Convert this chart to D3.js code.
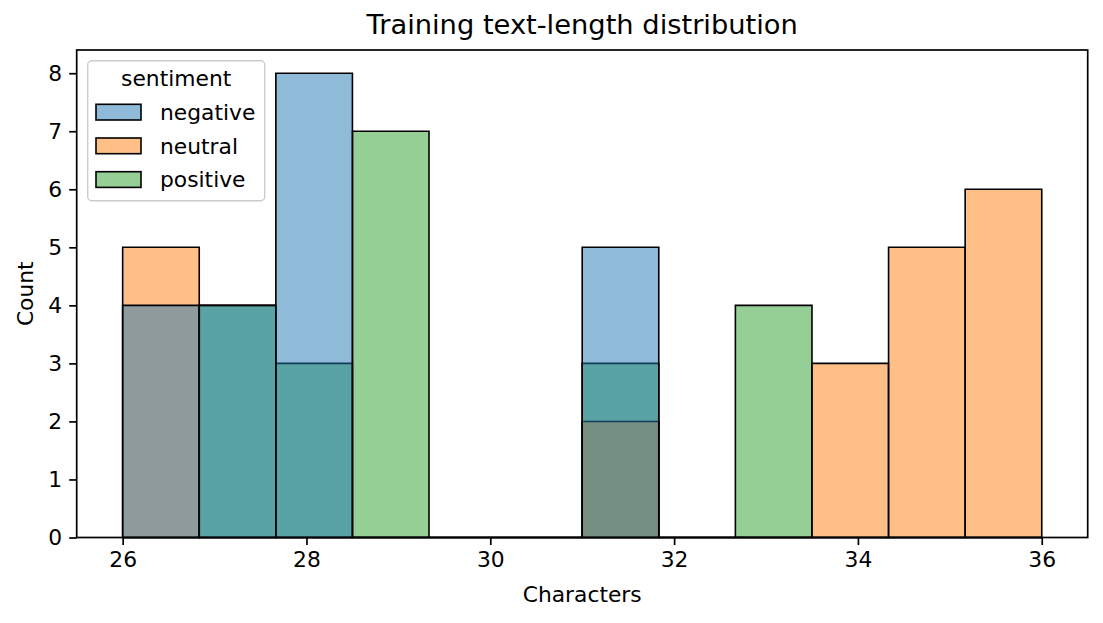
<!DOCTYPE html>
<html>
<head>
<meta charset="utf-8">
<script src="https://cdn.jsdelivr.net/npm/d3@7"></script>
<style>
  body { margin: 0; background: #ffffff; }
  text { font-family: "DejaVu Sans", sans-serif; fill: #000000; }
</style>
</head>
<body>
<div id="chart"></div>
<script>
// Histogram bins (12 bins between 26 and 36 characters)
const binEdges = [26, 26.8333, 27.6667, 28.5, 29.3333, 30.1667, 31, 31.8333, 32.6667, 33.5, 34.3333, 35.1667, 36];

// Counts per bin for every sentiment
const sentiments = ['negative', 'neutral', 'positive'];
const negativeCounts = [4, 4, 8, 0, 0, 0, 5, 0, 0, 0, 0, 0];
const neutralCounts = [5, 0, 0, 0, 0, 0, 2, 0, 0, 3, 5, 6];
const positiveCounts = [0, 4, 3, 7, 0, 0, 3, 0, 4, 0, 0, 0];

const xTicks = [26, 28, 30, 32, 34, 36];
const yTicks = [0, 1, 2, 3, 4, 5, 6, 7, 8];

const colors = { negative: '#1f77b4', neutral: '#ff7f0e', positive: '#2ca02c' };

const countsBySentiment = {
  negative: negativeCounts,
  neutral: neutralCounts,
  positive: positiveCounts,
};

const width = 1103;
const height = 623;
const margin = { top: 50, right: 15.3, bottom: 85.5, left: 76.7 };
const innerW = width - margin.left - margin.right;
const innerH = height - margin.top - margin.bottom;
const fontSize = 21.8;

const svg = d3
  .select('#chart')
  .append('svg')
  .attr('width', width)
  .attr('height', height);

const g = svg.append('g').attr('transform', `translate(${margin.left},${margin.top})`);

// Scales (matplotlib adds 5% margins)
const xScale = d3.scaleLinear().domain([25.5, 36.5]).range([0, innerW]);
const yScale = d3.scaleLinear().domain([0, 8.4]).range([innerH, 0]);

// Layers: seaborn draws the last hue first, so negative ends on top
const drawOrder = ['positive', 'neutral', 'negative'];

drawOrder.forEach((key) => {
  const bins = countsBySentiment[key].map((count, i) => ({
    x0: binEdges[i],
    x1: binEdges[i + 1],
    count,
  }));

  g.append('g')
    .attr('class', `bars-${key}`)
    .selectAll('path')
    .data(bins)
    .enter()
    .append('path')
    // paths so zero-height bins still show their edge along the baseline
    .attr('d', (d) => {
      const x0 = xScale(d.x0);
      const x1 = xScale(d.x1);
      const y0 = yScale(0);
      const y1 = yScale(d.count);
      return `M${x0},${y0}V${y1}H${x1}V${y0}Z`;
    })
    .attr('fill', colors[key])
    .attr('fill-opacity', 0.5)
    .attr('stroke', '#000000')
    .attr('stroke-width', 1.6)
    .attr('stroke-linejoin', 'miter');
});

// Axes
const xAxis = d3.axisBottom(xScale).tickValues(xTicks).tickSize(7.5).tickPadding(7).tickFormat(d3.format('d'));
const yAxis = d3.axisLeft(yScale).tickValues(yTicks).tickSize(7.5).tickPadding(7).tickFormat(d3.format('d'));

const xAxisG = g.append('g').attr('transform', `translate(0,${innerH})`).call(xAxis);
const yAxisG = g.append('g').call(yAxis);

[xAxisG, yAxisG].forEach((axis) => {
  axis.select('.domain').remove();
  axis.selectAll('line').attr('stroke', '#000000').attr('stroke-width', 1.7);
  axis.selectAll('text')
    .style('font-family', '"DejaVu Sans", sans-serif')
    .style('font-size', `${fontSize}px`)
    .attr('fill', '#000000');
});

// Spines
g.append('rect')
  .attr('x', 0)
  .attr('y', 0)
  .attr('width', innerW)
  .attr('height', innerH)
  .attr('fill', 'none')
  .attr('stroke', '#000000')
  .attr('stroke-width', 1.7);

// Title and axis labels
svg
  .append('text')
  .attr('x', margin.left + innerW / 2)
  .attr('y', 34)
  .attr('text-anchor', 'middle')
  .style('font-size', '27.3px')
  .text('Training text-length distribution');

svg
  .append('text')
  .attr('x', margin.left + innerW / 2)
  .attr('y', 601.5)
  .attr('text-anchor', 'middle')
  .style('font-size', `${fontSize}px`)
  .text('Characters');

svg
  .append('text')
  .attr('transform', `translate(32.5,${margin.top + innerH / 2}) rotate(-90)`)
  .attr('text-anchor', 'middle')
  .style('font-size', `${fontSize}px`)
  .text('Count');

// Legend
const legend = svg.append('g').attr('class', 'legend');

legend
  .append('rect')
  .attr('x', 87.7)
  .attr('y', 60.7)
  .attr('width', 177)
  .attr('height', 140)
  .attr('rx', 4)
  .attr('fill', '#ffffff')
  .attr('fill-opacity', 0.8)
  .attr('stroke', '#cccccc')
  .attr('stroke-width', 1.4);

legend
  .append('text')
  .attr('x', 176.2)
  .attr('y', 85.7)
  .attr('text-anchor', 'middle')
  .style('font-size', `${fontSize}px`)
  .text('sentiment');

const rowY = d3.scaleLinear().domain([0, 1]).range([104.3, 138]);

sentiments.forEach((key, i) => {
  const row = legend.append('g').attr('transform', `translate(0,${rowY(i)})`);
  row
    .append('rect')
    .attr('x', 96)
    .attr('y', 0)
    .attr('width', 45)
    .attr('height', 15.7)
    .attr('fill', colors[key])
    .attr('fill-opacity', 0.5)
    .attr('stroke', '#000000')
    .attr('stroke-width', 1.6);
  row
    .append('text')
    .attr('x', 160)
    .attr('y', 15.7)
    .style('font-size', `${fontSize}px`)
    .text(key);
});
</script>
</body>
</html>
